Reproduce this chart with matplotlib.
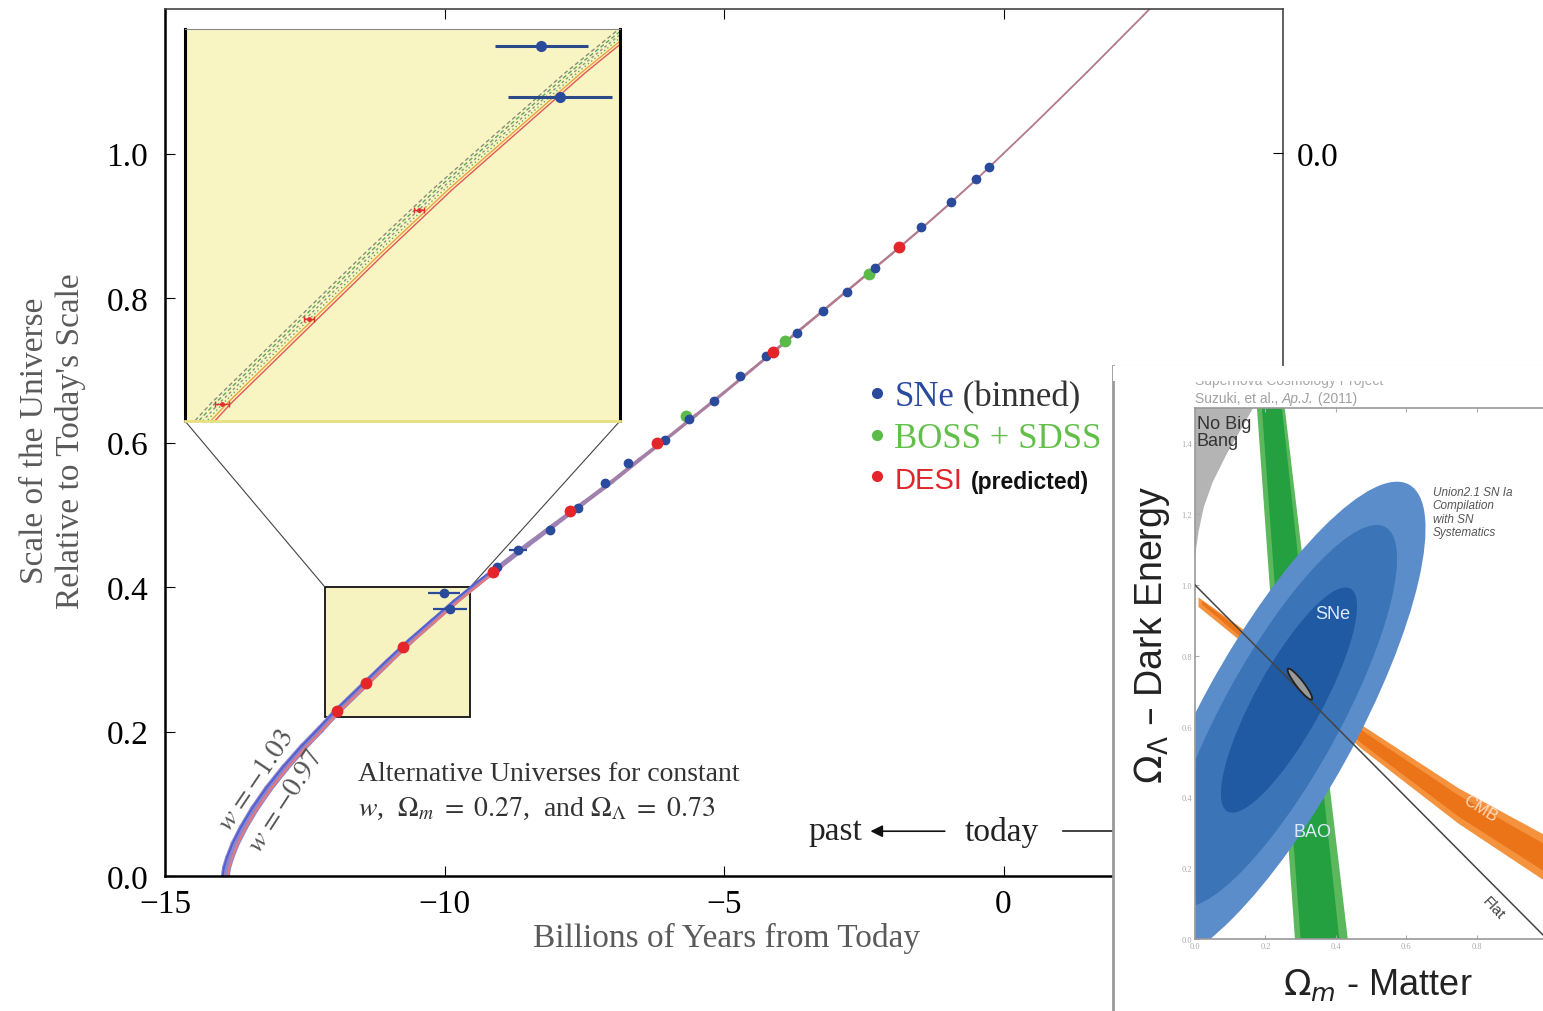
import numpy as np
import matplotlib
matplotlib.use('Agg')
from matplotlib import pyplot as plt
from matplotlib.patches import Ellipse, Polygon, Rectangle, ConnectionPatch
from matplotlib.collections import LineCollection
from matplotlib.lines import Line2D
from matplotlib.transforms import offset_copy
import matplotlib.colors as mcolors

plt.rcParams['font.family'] = ['Liberation Serif', 'DejaVu Serif']
plt.rcParams['mathtext.fontset'] = 'stix'

# ---- scale factor vs time ----
curve_t = [-13.92, -13.90, -13.85, -13.75, -13.60, -13.40, -13.15, -12.85, -12.52,
           -12.22, -11.92, -11.40, -11.00, -10.60, -10.20, -9.80, -9.40, -9.00,
           -8.50, -8.00, -7.50, -7.00, -6.50, -6.00, -5.50, -5.00, -4.50, -4.00,
           -3.50, -3.00, -2.50, -2.00, -1.50, -1.00, -0.50, 0.00, 0.50, 1.00,
           1.50, 2.00, 2.50, 3.00]
curve_a = [0.000, 0.011, 0.024, 0.044, 0.067, 0.093, 0.121, 0.150, 0.179,
           0.203, 0.228, 0.267, 0.297, 0.326, 0.353, 0.380, 0.405, 0.429,
           0.459, 0.488, 0.517, 0.546, 0.577, 0.607, 0.638, 0.669, 0.701, 0.733,
           0.765, 0.797, 0.829, 0.861, 0.894, 0.928, 0.963, 1.000, 1.037, 1.075,
           1.113, 1.152, 1.191, 1.231]

# SNe (binned)
sne_t = [-10.01, -9.90, -9.06, -8.69, -8.11, -7.61, -7.13, -6.72, -6.06, -5.63,
         -5.18, -4.71, -4.25, -3.69, -3.23, -2.80, -2.30, -1.87, -1.48, -0.94,
         -0.49, -0.26]
sne_a = [0.392, 0.369, 0.428, 0.451, 0.479, 0.509, 0.544, 0.572, 0.603, 0.633,
         0.657, 0.692, 0.720, 0.752, 0.782, 0.808, 0.841, 0.870, 0.898, 0.933,
         0.965, 0.981]
sne_terr = [0.28, 0.31, 0.06, 0.16, 0.08, 0.05, 0.04, 0.04, 0.04, 0.03,
            0.03, 0.03, 0.03, 0.03, 0.02, 0.02, 0.02, 0.02, 0.02, 0.02,
            0.02, 0.02]

# BOSS + SDSS
boss_t = [-5.68, -3.91, -2.41]
boss_a = [0.637, 0.740, 0.833]

# DESI (predicted)
desi_t = [-11.92, -11.40, -10.74, -9.13, -7.75, -6.20, -4.12, -1.87]
desi_a = [0.228, 0.267, 0.317, 0.421, 0.505, 0.599, 0.725, 0.870]
desi_terr = [0.04, 0.03, 0.03, 0.03, 0.03, 0.03, 0.03, 0.03]

zoom_t = (-12.14, -9.54)
zoom_a = (0.22, 0.40)

# ---- Omega_m / Omega_Lambda panel ----
nobang_x = [0.0, 0.0, 0.01, 0.025, 0.05, 0.09, 0.125, 0.165]
nobang_y = [1.5, 1.08, 1.15, 1.22, 1.29, 1.37, 1.43, 1.5]
bao_out_x = [0.176, 0.255, 0.434, 0.284]
bao_out_y = [1.5, 1.5, 0.0, 0.0]
bao_in_x = [0.190, 0.247, 0.410, 0.300]
bao_in_y = [1.5, 1.5, 0.0, 0.0]
cmb_out_x = [0.01, 0.20, 0.48, 0.75, 1.00, 1.00, 0.75, 0.47, 0.20, 0.01]
cmb_out_y = [0.965, 0.83, 0.60, 0.425, 0.29, 0.16, 0.325, 0.54, 0.785, 0.938]
cmb_in_x = [0.02, 0.20, 0.48, 0.75, 1.00, 1.00, 0.75, 0.47, 0.20, 0.02]
cmb_in_y = [0.955, 0.82, 0.585, 0.405, 0.264, 0.186, 0.345, 0.555, 0.795, 0.945]
sne_centers = [(0.235, 0.61), (0.245, 0.63), (0.267, 0.675)]   # outer, middle, inner
sne_angle = 61
sne_len = [1.54, 1.22, 0.72]
sne_wid = [0.44, 0.33, 0.19]
sne_cols = ['#5b8dca', '#3b74b7', '#1f5aa2']
comb_center = (0.298, 0.72)

W, H = 1543, 1012


def box(x0, y0, x1, y1):
    # pixel box measured from the top-left -> figure fraction rect
    return [x0 / W, 1 - y1 / H, (x1 - x0) / W, (y1 - y0) / H]


fig = plt.figure(figsize=(W / 100, H / 100), dpi=100)

# ================= main axes =================
ax = fig.add_axes(box(165, 10, 1283, 877))
ax.set_xlim(-15, 5)
ax.set_ylim(0, 1.2)
ax.set_xticks([-15, -10, -5, 0])
ax.set_yticks([0, 0.2, 0.4, 0.6, 0.8, 1.0])
ax.set_yticklabels(['%.1f' % v for v in [0, 0.2, 0.4, 0.6, 0.8, 1.0]])
ax.tick_params(direction='in', length=7, labelsize=24, top=True)
ax.tick_params(axis='x', pad=9)
ax.tick_params(axis='y', pad=12)
for s in ['left', 'bottom']:
    ax.spines[s].set_linewidth(1.8)
for s in ['top', 'right']:
    ax.spines[s].set_linewidth(1.2)
    ax.spines[s].set_color('#444444')

ax2 = ax.twinx()
ax2.set_ylim(0, 1.2)
ax2.set_yticks([1.0])
ax2.set_yticklabels(['0.0'])
ax2.tick_params(direction='in', length=7, labelsize=24, pad=10)
for s in ax2.spines.values():
    s.set_visible(False)

# zoom rectangle
ax.add_patch(Rectangle((zoom_t[0], zoom_a[0]), zoom_t[1] - zoom_t[0], zoom_a[1] - zoom_a[0],
                       fc='#f7f3c0', ec='#111111', lw=1.3, zorder=1))

# expansion curve, a band of w-models converging toward today
ct = np.array(curve_t)
ca = np.array(curve_a)
pts = np.column_stack([ct, ca])
segs = np.stack([pts[:-1], pts[1:]], axis=1)
mid = 0.5 * (ct[:-1] + ct[1:])
widths = np.interp(mid, [-14, -9.5, -5, 0], [6.5, 4.0, 2.2, 1.3])
c0 = np.array(mcolors.to_rgb('#8f86cc'))
c1 = np.array(mcolors.to_rgb('#b27a8c'))
f = np.interp(mid, [-14, -8, -3], [0, 0.4, 1])[:, None]
lc = LineCollection(segs, linewidths=widths, colors=c0 * (1 - f) + c1 * f,
                    capstyle='round', joinstyle='round', zorder=2)
ax.add_collection(lc)
early = ct <= -9.0
ax.plot(ct[early], ca[early], color='#4c5fd6', lw=1.3, zorder=2,
        transform=offset_copy(ax.transData, fig, x=-2.6, y=0, units='dots'))
ax.plot(ct[early], ca[early], color='#ee7777', lw=1.3, zorder=2,
        transform=offset_copy(ax.transData, fig, x=2.6, y=0, units='dots'))

blue = '#2a4a9c'
green = '#5cbb48'
red = '#e4262a'
ax.errorbar(sne_t, sne_a, xerr=sne_terr, fmt='o', ms=6, color=blue, elinewidth=1.6,
            capsize=0, zorder=4)
ax.plot(boss_t, boss_a, 'o', ms=7.5, color=green, zorder=4)
ax.plot(desi_t, desi_a, 'o', ms=7.5, color=red, zorder=5)

# annotations
ax.text(-13.37, 0.133, r'$w\,=-1.03$', rotation=56, fontsize=20, color='#555555',
        ha='center', va='center')
ax.text(-12.83, 0.104, r'$w\,=-0.97$', rotation=57, fontsize=20, color='#555555',
        ha='center', va='center')
ax.text(-11.55, 0.142, 'Alternative Universes for constant', fontsize=20,
        color='#333333', ha='left', va='center')
ax.text(-11.55, 0.094, r'$w$,  $\Omega_m\ =\ 0.27$,  and $\Omega_\Lambda\ =\ 0.73$',
        fontsize=20, color='#333333', ha='left', va='center')

ax.text(-3.0, 0.062, 'past', fontsize=24, color='#222222', ha='center', va='center')
ax.text(-0.03, 0.062, 'today', fontsize=24, color='#222222', ha='center', va='center')
ax.annotate('', xy=(-2.38, 0.062), xytext=(-1.05, 0.062),
            arrowprops=dict(arrowstyle='-|>', color='#111111', lw=1.2,
                            mutation_scale=18, shrinkA=0, shrinkB=0))
ax.plot([1.07, 3.5], [0.062, 0.062], color='#222222', lw=1.2)

# legend
handles = [Line2D([], [], marker='o', ls='', ms=7, color=c) for c in (blue, green, red)]
leg = ax.legend(handles, ['SNe', 'BOSS + SDSS', 'DESI'], loc='upper left',
                bbox_to_anchor=(870 / W, 1 - 381 / H), bbox_transform=fig.transFigure,
                frameon=False, fontsize=25, handlelength=0.4, handletextpad=0.3,
                labelspacing=0.26, borderpad=0, borderaxespad=0)
texts = leg.get_texts()
texts[0].set_color('#2a4aa0')
texts[1].set_color('#62c04a')
texts[2].set_color('#e0262a')
texts[2].set_fontfamily('Liberation Sans')
texts[2].set_fontsize(21)
ax.annotate(' (binned)', xy=(1, 0), xycoords=texts[0], va='bottom', ha='left',
            fontsize=25, color='#333333', zorder=6)
ax.annotate('(predicted)', xy=(1, 0), xycoords=texts[2], xytext=(6, 1),
            textcoords='offset points', va='bottom', ha='left', fontsize=16.5,
            fontweight='bold', family='Liberation Sans', color='#111111', zorder=6)

fig.text(53 / W, 1 - 441 / H, "Scale of the Universe\nRelative to Today's Scale",
         rotation=90, ha='center', va='center', multialignment='center',
         fontsize=24, color='#5a5a5a', linespacing=1.2)
fig.text(727 / W, 1 - 938 / H, 'Billions of Years from Today', ha='center', va='center',
         fontsize=24, color='#5a5a5a')

# ================= zoom inset =================
axins = fig.add_axes(box(185, 30, 620, 422))
axins.set_facecolor('#f8f5c2')
axins.set_xlim(*zoom_t)
axins.set_ylim(*zoom_a)
axins.set_xticks([])
axins.set_yticks([])
axins.spines['left'].set_linewidth(2.2)
axins.spines['right'].set_linewidth(2.2)
axins.spines['top'].set_color('#888888')
axins.spines['bottom'].set_color('#e8df80')
axins.spines['bottom'].set_linewidth(2)
band = [(-11, '#8c8c80', (0, (3, 2))), (-7, '#5ea85e', (0, (3, 2))),
        (-3, '#909086', (0, (2, 2))), (1, '#5ea85e', (0, (1, 2))),
        (5, '#f0a040', '-'), (9, '#e05858', '-')]
for dx, col, ls in band:
    axins.plot(ct, ca, color=col, lw=1.0, ls=ls,
               transform=offset_copy(axins.transData, fig, x=dx, y=0, units='dots'))
axins.errorbar(sne_t, sne_a, xerr=sne_terr, fmt='o', ms=7, color='#2a4a9c',
               ecolor='#2a4a8a', elinewidth=2.2, capsize=0, zorder=4)
axins.errorbar(desi_t, desi_a, xerr=desi_terr, fmt='o', ms=2.5, color='#e03030',
               elinewidth=1, capsize=2, zorder=5)

for xa, xb in [((0, 0), (zoom_t[0], zoom_a[1])), ((1, 0), (zoom_t[1], zoom_a[1]))]:
    con = ConnectionPatch(xyA=xa, coordsA=axins.transAxes, xyB=xb, coordsB=ax.transData,
                          color='#444444', lw=0.8)
    ax.add_artist(con)

# ================= Omega_m - Omega_Lambda panel =================
bg = fig.add_axes(box(1113, 367, 1543, 1012))
bg.set_xlim(0, 1)
bg.set_ylim(0, 1)
bg.set_xticks([])
bg.set_yticks([])
bg.spines['right'].set_visible(False)
bg.spines['bottom'].set_visible(False)
bg.spines['left'].set_color('#999999')
bg.spines['left'].set_linewidth(2)
bg.spines['top'].set_color('#cccccc')
bg.text(0.19, 1 - (381 - 367) / 645, 'Supernova Cosmology Project', fontsize=10,
        family='Liberation Sans', color='#a8a8a8', ha='left', va='center')
bg.add_patch(Rectangle((0, 1 - (382 - 367) / 645), 1, 0.03, fc='white', ec='none', zorder=5))
t1 = bg.text(0.19, 1 - (399 - 367) / 645, 'Suzuki, et al., ', fontsize=10,
             family='Liberation Sans', color='#a0a0a0', ha='left', va='center')
t2 = bg.annotate('Ap.J.', xy=(1, 0), xycoords=t1, va='bottom', ha='left', fontsize=10,
                 family='Liberation Sans', style='italic', color='#a0a0a0')
bg.annotate(' (2011)', xy=(1, 0), xycoords=t2, va='bottom', ha='left', fontsize=10,
            family='Liberation Sans', color='#a0a0a0')

cx = fig.add_axes(box(1195, 409, 1547, 940))
cx.set_xlim(0, 1)
cx.set_ylim(0, 1.5)
cx.set_xticks([0, 0.2, 0.4, 0.6, 0.8, 1.0])
cx.set_yticks([0, 0.2, 0.4, 0.6, 0.8, 1.0, 1.2, 1.4])
cx.set_xticklabels(['0.0', '0.2', '0.4', '0.6', '0.8', ''])
cx.set_yticklabels(['0.0', '0.2', '0.4', '0.6', '0.8', '1.0', '1.2', '1.4'])
cx.tick_params(direction='in', length=3, labelsize=6, colors='#aaaaaa', top=True,
               right=True, pad=2)
for s in cx.spines.values():
    s.set_color('#999999')
    s.set_linewidth(1.2)

cx.add_patch(Polygon(np.column_stack([nobang_x, nobang_y]), fc='#b4b4b4', ec='none', zorder=1))
cx.add_patch(Polygon(np.column_stack([bao_out_x, bao_out_y]), fc='#5cb85c', ec='none', zorder=1))
cx.add_patch(Polygon(np.column_stack([bao_in_x, bao_in_y]), fc='#24a040', ec='none', zorder=1))
cx.add_patch(Polygon(np.column_stack([cmb_out_x, cmb_out_y]), fc='#f5923e', ec='none', zorder=1))
cx.add_patch(Polygon(np.column_stack([cmb_in_x, cmb_in_y]), fc='#ec7418', ec='none', zorder=1))
for cen, L, Wd, col in zip(sne_centers, sne_len, sne_wid, sne_cols):
    cx.add_patch(Ellipse(cen, L, Wd, angle=sne_angle, fc=col, ec='none', zorder=2))
cx.plot([0, 1], [1, 0], color='#444444', lw=1.1, zorder=3)
cx.add_patch(Ellipse(comb_center, 0.11, 0.022, angle=-52, fc='#9a9a9a', ec='#222222',
                     lw=1.3, zorder=4))

cx.text(0.005, 1.48, 'No Big\nBang', fontsize=13, family='Liberation Sans',
        color='#333333', ha='left', va='top', linespacing=1.0, zorder=5)
cx.text(0.675, 1.28, 'Union2.1 SN Ia\nCompilation\nwith SN\nSystematics', fontsize=8.5,
        family='Liberation Sans', style='italic', color='#555555', ha='left', va='top',
        linespacing=1.15, zorder=5)
cx.text(0.39, 0.92, 'SNe', fontsize=13, family='Liberation Sans', color='#dde8ff',
        ha='center', va='center', zorder=5)
cx.text(0.335, 0.305, 'BAO', fontsize=13, family='Liberation Sans', color='#dde8ff',
        ha='center', va='center', zorder=5)
cx.text(0.81, 0.37, 'CMB', fontsize=12, family='Liberation Sans', color='#ffdcc0',
        rotation=-32, ha='center', va='center', zorder=5)
cx.text(0.847, 0.09, 'Flat', fontsize=11, family='Liberation Sans', color='#444444',
        rotation=-47, ha='center', va='center', zorder=5)

fig.text(1152 / W, 1 - 635 / H, r'$\Omega_\Lambda$ – Dark Energy', rotation=90,
         ha='center', va='center', fontsize=27, family='Liberation Sans',
         math_fontfamily='dejavusans', color='#222222')
fig.text(1378 / W, 1 - 985 / H, r'$\Omega_m$ - Matter', ha='center', va='center',
         fontsize=26, family='Liberation Sans', math_fontfamily='dejavusans',
         color='#222222')

fig.canvas.draw()
fig.savefig('out.png', dpi=100)
